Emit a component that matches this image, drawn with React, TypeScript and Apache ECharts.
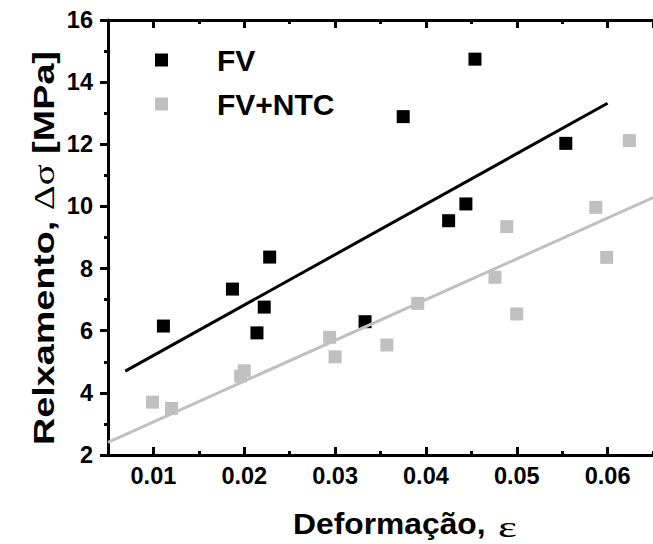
import React, { useEffect, useRef } from 'react';
import * as echarts from 'echarts';

// Deformação (strain) vs Relxamento (stress relaxation)
const fvData: number[][] = [
  [0.0111, 6.15], [0.0187, 7.34], [0.0214, 5.93], [0.0222, 6.76], [0.0228, 8.37],
  [0.0333, 6.29], [0.0375, 12.89], [0.0425, 9.54], [0.0444, 10.08], [0.0454, 14.74],
  [0.0554, 12.03],
];
const ntcData: number[][] = [
  [0.0099, 3.70], [0.0120, 3.50], [0.0196, 4.54], [0.0200, 4.71], [0.0294, 5.79],
  [0.0300, 5.16], [0.0357, 5.54], [0.0391, 6.88], [0.0476, 7.72], [0.0489, 9.35],
  [0.0500, 6.54], [0.0587, 9.97], [0.0599, 8.36], [0.0624, 12.12],
];
// linear fits (end points)
const fvFit: number[][] = [[0.0069, 4.70], [0.0600, 13.32]];
const ntcFit: number[][] = [[0.005, 2.41], [0.065, 10.28]];

const seriesNames = ['FV', 'FV+NTC'];
const xRange = [0.005, 0.065];
const yRange = [2, 16];
const yStep = 2;

const FONT = '"Liberation Sans", Arial, sans-serif';
const SERIF = '"Liberation Serif", "Times New Roman", serif';

export default function App() {
  const ref = useRef<HTMLDivElement>(null);
  useEffect(() => {
    if (!ref.current) return;
    const chart = echarts.init(ref.current, undefined, { renderer: 'svg' });
    const majorX = (position: string, showLabel: boolean) => ({
      type: 'value', position, min: xRange[0], max: xRange[1], splitNumber: 6,
      axisLine: { show: true, lineStyle: { color: '#000', width: 3 } },
      axisTick: { show: true, inside: true, length: 8, lineStyle: { color: '#000', width: 3 } },
      axisLabel: {
        show: showLabel, showMinLabel: false, showMaxLabel: false, margin: 9,
        fontSize: 23.5, fontWeight: 'bold', color: '#000', fontFamily: FONT,
        formatter: (v: number) => v.toFixed(2),
      },
      splitLine: { show: false },
    });
    const minorX = (position: string) => ({
      type: 'value', position, min: xRange[0], max: xRange[1], interval: 0.01,
      axisLine: { show: false },
      axisTick: { show: true, inside: true, length: 4, lineStyle: { color: '#000', width: 3 } },
      axisLabel: { show: false },
      splitLine: { show: false },
    });
    chart.setOption({
      animation: false,
      backgroundColor: '#fff',
      grid: { left: 108, right: -4, top: 20, bottom: 89 },
      xAxis: [majorX('bottom', true), minorX('bottom'), majorX('top', false), minorX('top')],
      yAxis: [{
        type: 'value', position: 'left', min: yRange[0], max: yRange[1], interval: yStep,
        axisLine: { show: true, lineStyle: { color: '#000', width: 3 } },
        axisTick: { show: true, inside: false, length: 8, lineStyle: { color: '#000', width: 3 } },
        minorTick: { show: true, splitNumber: 2, length: 4, lineStyle: { color: '#000', width: 3 } },
        axisLabel: { margin: 15, fontSize: 23.5, fontWeight: 'bold', color: '#000', fontFamily: FONT },
        splitLine: { show: false },
      }],
      legend: {
        data: seriesNames, orient: 'vertical', left: 150, top: 40,
        itemWidth: 13, itemHeight: 13, itemGap: 14, icon: 'rect',
        textStyle: { fontSize: 30, fontWeight: 'bold', color: '#000', fontFamily: FONT, padding: [0, 0, 0, 44] },
      },
      graphic: [
        {
          type: 'text', x: 293, y: 524, scaleX: 1.06,
          style: {
            text: 'Deformação,', align: 'left', verticalAlign: 'middle',
            fontSize: 30, fontWeight: 'bold', fontFamily: FONT, fill: '#000',
          },
        },
        {
          type: 'text', x: 498, y: 527, scaleX: 1.5,
          style: {
            text: 'ε', align: 'left', verticalAlign: 'middle',
            fontSize: 30, fontFamily: SERIF, fill: '#000',
          },
        },
        {
          type: 'text', x: 44, y: 248, rotation: Math.PI / 2, scaleX: 1.3,
          style: {
            text: '{a|Relxamento, }{b|Δσ}{a| [MPa]}',
            align: 'center', verticalAlign: 'middle',
            rich: {
              a: { fontSize: 29, fontWeight: 'bold', fontFamily: FONT, fill: '#000' },
              b: { fontSize: 30, fontFamily: SERIF, fill: '#000' },
            },
          },
        },
      ],
      series: [
        { name: seriesNames[0], type: 'scatter', symbol: 'rect', symbolSize: 13, data: fvData, itemStyle: { color: '#000', opacity: 1 } },
        { name: seriesNames[1], type: 'scatter', symbol: 'rect', symbolSize: 13, data: ntcData, itemStyle: { color: '#c0c0c0', opacity: 1 } },
        { name: 'FV fit', type: 'line', data: fvFit, showSymbol: false, symbol: 'none', silent: true, lineStyle: { color: '#000', width: 3 } },
        { name: 'FV+NTC fit', type: 'line', data: ntcFit, showSymbol: false, symbol: 'none', silent: true, lineStyle: { color: '#c0c0c0', width: 3 } },
      ],
    });
    return () => chart.dispose();
  }, []);
  return <div ref={ref} style={{ width: 653, height: 544, position: 'absolute', left: 0, top: 0 }} />;
}
